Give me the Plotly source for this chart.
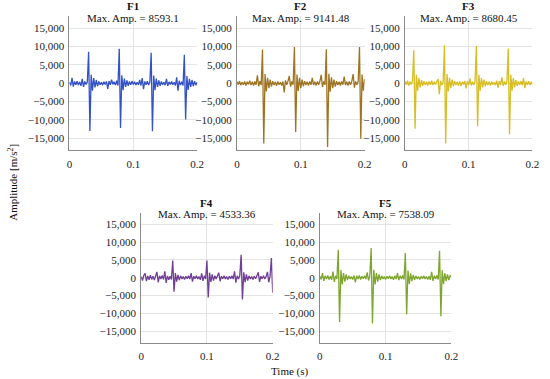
import plotly.graph_objects as go

# sample grid: 0.002 s steps, 0 .. 0.2 s
time_s = [round(i * 0.002, 3) for i in range(101)]

f1_amp = [300, -600, 1500, -900, 500, -400, 600, -500, 400, -700,
          1200, -1000, 500, -300, 400, 8600, -13000, 2300, -2000, 1400,
          -1100, 900, -800, 500, -400, 300, -500, 400, -300, 500,
          -1500, 600, -400, 1000, -300, 400, -500, 700, -600, 9400,
          -12200, 2200, -1900, 1300, -1000, 800, -700, 500, -400, 600,
          -300, 400, -500, 300, -400, 900, -600, 1400, -1600, 500,
          -400, 600, -500, 400, 8300, -13100, 2100, -1900, 1300, -1000,
          800, -700, 500, -400, 300, -500, 1200, -700, 400, -300,
          500, -400, 300, -600, 1600, -2000, 700, -500, 400, -600,
          7800, -9900, 2000, -1800, 1200, -1000, 900, -800, 600, -500, 300]

f2_amp = [400, -300, 600, -500, 300, -400, 500, -600, 400, -300,
          700, -500, 400, -600, 500, -400, 2200, -800, 600, -500,
          9200, -16400, 2500, -2200, 1500, -1300, 1000, -900, 600, -500,
          400, -700, 500, -400, 300, -600, 500, -2500, 800, -400,
          600, 2000, -900, 500, -400, 9900, -13300, 2400, -2100, 1500,
          -1300, 1000, -800, 600, -500, 400, -600, 500, -400, 1500,
          -500, 400, -600, 500, -400, 600, 2300, -1000, 500, -400,
          9300, -17400, 2600, -2300, 1600, -1300, 1000, -900, 600, -500,
          400, -600, 500, -400, 1800, -500, 400, -600, 500, -400,
          600, 2500, -1200, 500, -400, 600, 9900, -15100, 2400, -2000, 1200]

f3_amp = [500, -400, 700, -600, 400, -300, 600, 9000, -12400, 2300,
          -2000, 1400, -1100, 900, -700, 600, -500, 400, -600, 500,
          -400, 700, -500, 400, -300, 600, 1200, -3000, 700, -500,
          400, 10400, -16400, 2500, -2200, 1500, -1300, 1000, -800, 600,
          -500, 400, -600, 500, -700, 400, -300, 600, -1400, 500,
          -400, 1300, -600, 400, -500, 600, 10200, -11700, 2300, -2000,
          1400, -1100, 1000, -800, 600, -500, 400, -600, 500, -400,
          300, -500, 700, -1200, 600, -400, 1600, -700, 500, -400,
          600, 9500, -13900, 2300, -2000, 1400, -1100, 900, -700, 500,
          -400, 600, -500, 1400, -1300, 500, -400, 600, -500, 400, -300]

f4_amp = [300, -800, 600, 1200, -1000, 500, -600, 700, -500, 400,
          -700, 500, 1600, -1300, 500, -400, 600, -500, 1800, -1500,
          500, -600, 400, -500, 4800, -3960, 1300, -1100, 800, -700,
          500, -400, 300, -500, 400, -300, 500, -400, 1300, -1100,
          400, -300, 500, -400, 300, -600, 1200, -900, 500, -400,
          4800, -5550, 1400, -1200, 900, -800, 500, -400, 300, 1400,
          -1000, 400, -300, 500, -400, 300, -500, 400, -300, 500,
          -400, 1800, -1400, 500, -400, 600, 6400, -6100, 1500, -1300,
          900, -800, 500, -400, 300, -500, 400, -300, 500, 1500,
          -1200, 400, -300, 500, -400, 300, 1600, -1300, 500, 5500, -4250]

f5_amp = [400, -500, 1300, -900, 500, -400, 600, -500, 400, -600,
          1700, -1200, 500, -400, 7840, -12450, 2100, -1900, 1300, -1100,
          900, -700, 500, -400, 300, -500, 600, -1300, 500, -400,
          600, -500, 400, -300, 500, -400, 1500, -800, 500, 8320,
          -12900, 2200, -1900, 1300, -1100, 900, -700, 500, -400, 300,
          -500, 400, -300, 500, -400, 300, -600, 500, -400, 1300,
          -700, 500, -400, 600, -500, 6900, -10270, 2000, -1800, 1200,
          -1000, 800, -600, 500, -400, 300, -500, 400, -300, 500,
          -400, 300, -500, 400, -600, 1600, -900, 500, -400, 600,
          -500, 7550, -10840, 2100, -1800, 1200, -1000, 900, -700, 600, 300]

names = ["F1", "F2", "F3", "F4", "F5"]
max_amp = ["8593.1", "9141.48", "8680.45", "4533.36", "7538.09"]
series = [f1_amp, f2_amp, f3_amp, f4_amp, f5_amp]
colors = ["rgb(52,82,200)", "rgb(158,116,34)", "rgb(216,190,36)",
          "rgb(112,62,150)", "rgb(126,166,46)"]

y_ticks = [-15000, -10000, -5000, 0, 5000, 10000, 15000]
x_ticks = [0, 0.1, 0.2]

# the page body margin is removed by a small post script, so the figure fills the window
W, H = 550, 379


def px(p):
    return p / W


def py(p):
    return 1 - p / H


# page-pixel boxes of each plot area: (left, right, top, bottom)
boxes = [(67.7, 197.7, 16.2, 150.4),
         (238.3, 368.3, 16.2, 150.4),
         (409.3, 539.3, 16.2, 150.4),
         (140.7, 274.7, 212.5, 342.8),
         (322.7, 456.7, 212.5, 342.8)]

font_family = "Liberation Serif"
fig = go.Figure()
layout = dict(width=W, height=H, margin=dict(l=0, r=0, t=0, b=0),
              paper_bgcolor="white", plot_bgcolor="white", showlegend=False,
              font=dict(family=font_family, size=11, color="#222"))
annotations = []
for k, (nm, amp, vals, col, box) in enumerate(zip(names, max_amp, series, colors, boxes)):
    sfx = "" if k == 0 else str(k + 1)
    l, r, t, b = box
    fig.add_trace(go.Scatter(x=time_s, y=vals, mode="lines",
                             line=dict(color=col, width=1.3),
                             xaxis="x" + sfx, yaxis="y" + sfx, hoverinfo="skip"))
    layout["xaxis" + sfx] = dict(domain=[px(l), px(r)], range=[0, 0.2], anchor="y" + sfx,
                                 tickvals=x_ticks, ticktext=["0", "0.1", "0.2"],
                                 showgrid=True, gridcolor="#e4e4e4", gridwidth=1,
                                 showline=True, linecolor="#8a8a8a", linewidth=1,
                                 zeroline=False, ticks="", ticklen=0,
                                 ticklabelstandoff=3,
                                 tickfont=dict(family=font_family, size=11, color="#222"))
    layout["yaxis" + sfx] = dict(domain=[py(b), py(t)], range=[-18300, 18300],
                                 anchor="x" + sfx, tickvals=y_ticks, tickformat=",d",
                                 showgrid=True, gridcolor="#e4e4e4", gridwidth=1,
                                 showline=True, linecolor="#8a8a8a", linewidth=1,
                                 zeroline=False, ticks="", ticklen=0,
                                 ticklabelstandoff=2,
                                 tickfont=dict(family=font_family, size=11, color="#222"))
    cx = (l + r) / 2 / W
    annotations.append(dict(text="<b>" + nm + "</b>", x=cx, y=py(t - 10),
                            xref="paper", yref="paper", showarrow=False,
                            xanchor="center", yanchor="middle",
                            font=dict(family=font_family, size=11, color="#111")))
    annotations.append(dict(text="Max. Amp. = " + amp, x=cx, y=py(t + 1.5),
                            xref="paper", yref="paper", showarrow=False,
                            xanchor="center", yanchor="middle",
                            font=dict(family=font_family, size=11, color="#111")))

annotations.append(dict(text="Amplitude [m/s<sup>2</sup>]", x=px(10), y=py(182),
                        xref="paper", yref="paper", showarrow=False, textangle=-90,
                        xanchor="center", yanchor="middle",
                        font=dict(family=font_family, size=11, color="#111")))
annotations.append(dict(text="Time (s)", x=px(292), y=py(371),
                        xref="paper", yref="paper", showarrow=False,
                        xanchor="center", yanchor="middle",
                        font=dict(family=font_family, size=11, color="#111")))
layout["annotations"] = annotations
fig.update_layout(**layout)
fig.write_html("out.html", config={"displayModeBar": False, "staticPlot": True},
               post_script="document.body.style.margin='0';document.body.style.overflow='hidden';")
